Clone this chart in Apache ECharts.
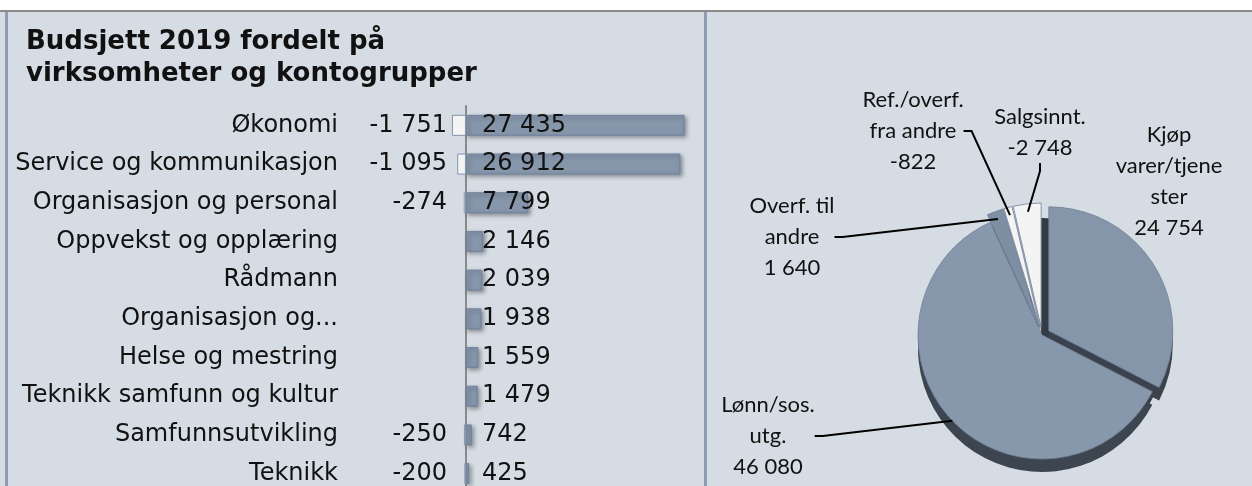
<!DOCTYPE html>
<html><head><meta charset="utf-8">
<script src="https://cdn.jsdelivr.net/npm/echarts@6/dist/echarts.min.js"></script>
<style>html,body{margin:0;padding:0;background:#fff}#c{width:1252px;height:486px}</style>
</head><body><div id="c"></div>
<script>
const titleText = 'Budsjett 2019 fordelt på\nvirksomheter og kontogrupper';
const units = ['Økonomi','Service og kommunikasjon','Organisasjon og personal','Oppvekst og opplæring','Rådmann','Organisasjon og...','Helse og mestring','Teknikk samfunn og kultur','Samfunnsutvikling','Teknikk'];
const negValues = [-1751,-1095,-274,null,null,null,null,null,-250,-200];
const posValues = [27435,26912,7799,2146,2039,1938,1559,1479,742,425];
const pieLabels = ['Kjøp\nvarer/tjene\nster','Lønn/sos.\nutg.','Overf. til\nandre','Ref./overf.\nfra andre','Salgsinnt.'];
const pieValues = [24754,46080,1640,-822,-2748];

function fmt(v){
  const s = Math.abs(v).toString().replace(/\B(?=(\d{3})+(?!\d))/g,' ');
  return (v<0?'-':'') + s;
}

const slate = '#8696ab';
const pieTopColors = ['#8696aa','#8898ac','#7e8ea3','#f4f4f4','#f4f4f4'];
const pieSideColors = ['#3b424d','#3d4550','#363d48','#b9bec6','#b9bec6'];
const labelPos = [[1169,181],[768,436],[792,237],[913,131],[1040,132]];

const chart = echarts.init(document.getElementById('c'));
const font = 'DejaVu Sans';
const pieFont = 'Lato';
const pieCenter = [1042, 335];
const pieR = 124;

function pieData(colors, explode, lines){
  return pieValues.map((v,i)=>({
    value: Math.abs(v),
    name: pieLabels[i],
    selected: explode && i !== 1,
    itemStyle: {color: colors ? colors[i] : 'rgba(0,0,0,0)'},
    labelLine: {show: lines && i !== 0}
  }));
}

const sideBase = {
  type:'pie', radius: pieR, startAngle: 90, clockwise: true,
  silent: true, avoidLabelOverlap: false,
  label: {show:false}, labelLine: {show:false},
  itemStyle: {borderWidth: 0},
  select: {itemStyle: {borderWidth: 0}}
};

chart.setOption({
  backgroundColor: '#d5dce4',
  animation: false,
  title: {
    text: titleText, left: 21, top: 21,
    textStyle: {fontFamily: font, fontWeight: 'bold', fontSize: 26, lineHeight: 32, color: '#111'}
  },
  graphic: [
    {type:'rect', shape:{x:0,y:0,width:1252,height:11}, style:{fill:'#ffffff'}, z:100},
    {type:'rect', shape:{x:0,y:10,width:1252,height:2}, style:{fill:'#8a8a8a'}, z:100},
    {type:'rect', shape:{x:5,y:12,width:3,height:474}, style:{fill:'#8d9cb1'}, z:100},
    {type:'rect', shape:{x:704,y:12,width:3,height:474}, style:{fill:'#8d9cb1'}, z:100}
  ],
  grid: {left: 450, width: 255, top: 106, height: 387, outerBoundsMode: 'none', containLabel: false},
  xAxis: {type:'value', min:-2000, max:30000, axisLine:{show:false}, axisLabel:{show:false}, splitLine:{show:false}, axisTick:{show:false}},
  yAxis: {
    type:'category', data: units, inverse: true,
    axisLine: {onZero: true, lineStyle: {color:'#8a8a8a', width: 2}},
    axisTick: {show:false},
    axisLabel: {margin: 112, fontFamily: font, fontSize: 24, color: '#111'}
  },
  series: [
    {
      type:'bar', data: negValues, barWidth: 21, barGap: '-100%', z: 3,
      itemStyle: {color:'#f4f4f4', borderColor:'#8696ab', borderWidth:1},
      label: {show:true, position:'insideRight', distance: 19, formatter: p => fmt(p.value), fontFamily: font, fontSize: 24, color:'#111'}
    },
    {
      type:'bar', data: posValues, barWidth: 21, z: 2,
      itemStyle: {color: slate, borderColor:'#7283a0', borderWidth:1, shadowColor:'rgba(0,0,0,0.35)', shadowBlur:4, shadowOffsetX:2, shadowOffsetY:2},
      label: {show:true, position:'insideLeft', distance: 16, formatter: p => fmt(p.value), fontFamily: font, fontSize: 24, color:'#111'}
    },
    Object.assign({}, sideBase, {
      center:[pieCenter[0], pieCenter[1] + 7], selectedMode: false, z: 1,
      data: pieData(['#343b45','#343b45','#343b45','#343b45','#343b45'], false, false)
    }),
    Object.assign({}, sideBase, {
      center:[pieCenter[0], pieCenter[1] + 13], selectedMode: 'multiple', selectedOffset: 8, z: 1,
      data: pieData(pieSideColors, true, false)
    }),
    {
      type:'pie', center: pieCenter, radius: pieR, startAngle: 90, clockwise: true,
      selectedMode: 'multiple', selectedOffset: 8, silent: true, z: 2,
      avoidLabelOverlap: false,
      itemStyle: {borderColor:'#6f7f95', borderWidth: 0.8},
      select: {itemStyle: {borderColor:'#6f7f95', borderWidth: 0.8}},
      label: {show:false}, labelLine: {show:false},
      data: pieData(pieTopColors, true, false)
    },
    {
      type:'pie', center: pieCenter, radius: pieR, startAngle: 90, clockwise: true,
      selectedMode: false, silent: true, z: 3,
      avoidLabelOverlap: false,
      itemStyle: {borderWidth: 0},
      label: {
        show: true, position: 'outside',
        formatter: p => pieLabels[p.dataIndex] + '\n' + fmt(pieValues[p.dataIndex]),
        fontFamily: pieFont, fontSize: 22, lineHeight: 31, color: '#111', align: 'center'
      },
      labelLine: {show: true, length: 10, length2: 8, lineStyle: {color:'#000', width: 2}},
      labelLayout: function(params){
        const p = labelPos[params.dataIndex];
        return {x: p[0], y: p[1], align: 'center', verticalAlign: 'middle'};
      },
      data: pieData(null, false, true)
    }
  ]
});
</script></body></html>
